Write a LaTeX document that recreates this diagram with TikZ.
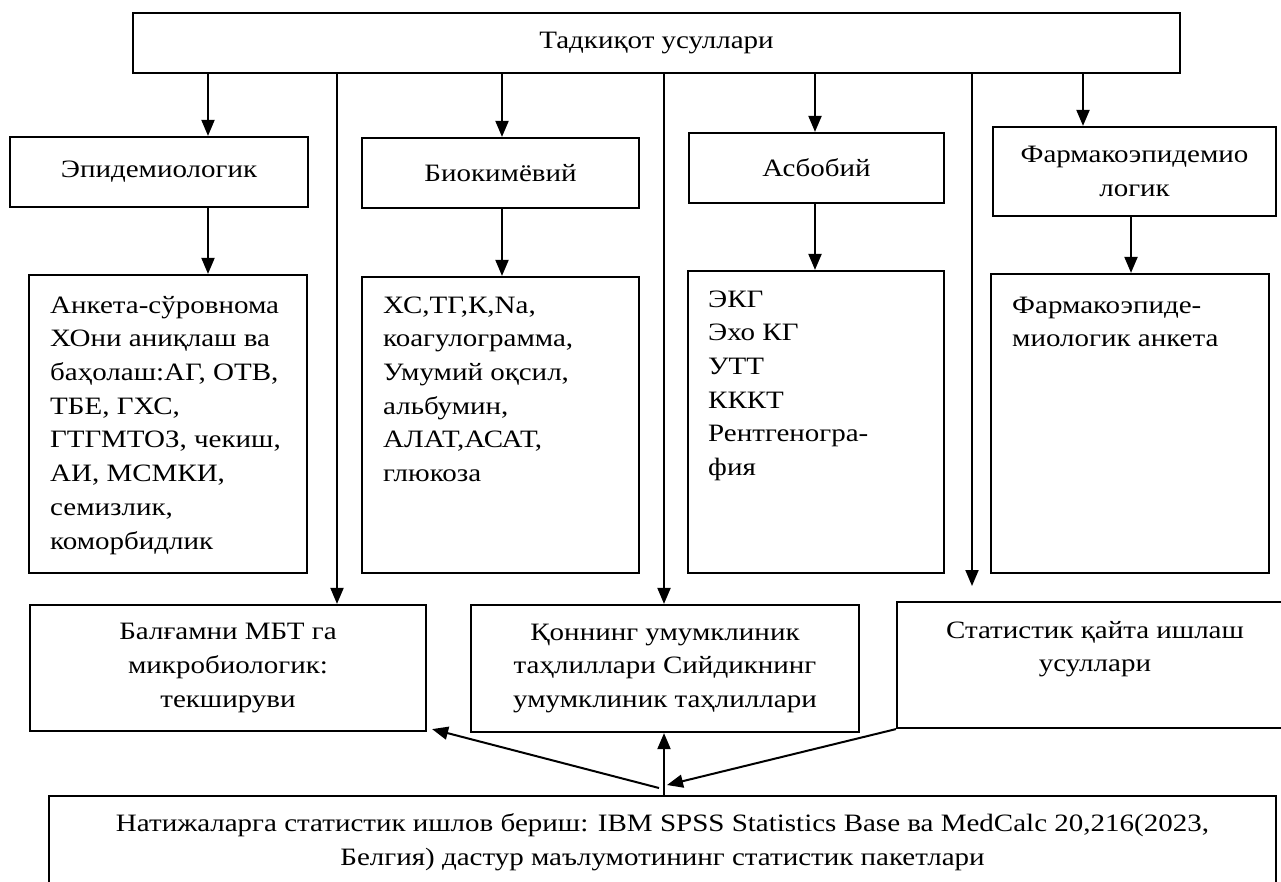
\documentclass[tikz,border=0pt]{standalone}
\usepackage{fontspec}
\setmainfont{Liberation Serif}[FakeStretch=1.16]
\usetikzlibrary{arrows.meta,calc}
\tikzset{
  box/.style={draw, line width=2.2pt, rectangle, inner sep=0pt, align=center},
  txtlist/.style={align=left, anchor=north west, inner sep=0pt},
  txtc/.style={align=center, inner sep=0pt},
  arr/.style={line width=2pt, -{Triangle[length=16pt,width=13pt]}},
}
\begin{document}
\begin{tikzpicture}[x=1pt,y=-1pt,font=\fontsize{25}{33.7}\selectfont]
\clip (0,0) rectangle (1281,881);
\fill[white] (0,0) rectangle (1281,881);

% top box
\node[box, minimum width=1047pt, minimum height=60pt] (top) at (656.5,43) {Тадкиқот усуллари};

% second row: method groups
\node[box, minimum width=298pt, minimum height=70pt] (epi) at (159,172) {Эпидемиологик};
\node[box, minimum width=277pt, minimum height=70pt] (bio) at (500.5,173) {Биокимёвий};
\node[box, minimum width=255pt, minimum height=70pt] (asb) at (816.5,168) {Асбобий};
\node[box, minimum width=283pt, minimum height=89pt] (far) at (1134.5,171.5) {Фармакоэпидемио\\логик};

% third row: detail boxes
\node[box, minimum width=278pt, minimum height=298pt] (epiL) at (168,424) {};
\node[box, minimum width=277pt, minimum height=296pt] (bioL) at (500.5,425) {};
\node[box, minimum width=256pt, minimum height=302pt] (asbL) at (816,422) {};
\node[box, minimum width=278pt, minimum height=299pt] (farL) at (1130,423.5) {};

\node[txtlist] (epiT) at (50,289.4) {\strut Анкета-сўровнома\\ХОни аниқлаш ва\\баҳолаш:АГ, ОТВ,\\ТБЕ, ГХС,\\ГТГМТОЗ, чекиш,\\АИ, МСМКИ,\\семизлик,\\коморбидлик};
\node[txtlist] (bioT) at (383,289.4) {\strut ХС,ТГ,К,Na,\\коагулограмма,\\Умумий оқсил,\\альбумин,\\АЛАТ,АСАТ,\\глюкоза};
\node[txtlist] (asbT) at (708,283.4) {\strut ЭКГ\\Эхо КГ\\УТТ\\КККТ\\Рентгеногра-\\фия};
\node[txtlist] (farT) at (1012,289.4) {\strut Фармакоэпиде-\\миологик анкета};

% fourth row
\node[box, minimum width=396pt, minimum height=126pt] (mbt) at (228,668) {Балғамни МБТ га\\микробиологик:\\текшируви};
\node[box, minimum width=388pt, minimum height=127pt] (blood) at (665,668.5) {Қоннинг умумклиник\\таҳлиллари Сийдикнинг\\умумклиник таҳлиллари};
\node[box, minimum width=396pt, minimum height=126pt] (stat) at (1095,665) {};
\node[txtc] (statT) at (1095,649) {Статистик қайта ишлаш\\усуллари};

% bottom box
\node[box, minimum width=1227pt, minimum height=93pt] (res) at (662.5,842.5) {Натижаларга статистик ишлов бериш: IBM SPSS Statistics Base ва MedCalc 20,216(2023,\\Белгия) дастур маълумотининг статистик пакетлари};

% connector columns
\coordinate (xa) at (208,0);
\coordinate (xb) at (502,0);
\coordinate (xc) at (815,0);
\coordinate (xd) at (1083,0);
\coordinate (xd2) at (1131,0);
\coordinate (xe) at (337,0);
\coordinate (xf) at (664,0);
\coordinate (xg) at (972,0);
\coordinate (gEnd) at (972,586);
\coordinate (hub) at (659,788);
\coordinate (hubR) at (667,785);

% top to second row
\draw[arr] (top.south -| xa) -- (epi.north -| xa);
\draw[arr] (top.south -| xb) -- (bio.north -| xb);
\draw[arr] (top.south -| xc) -- (asb.north -| xc);
\draw[arr] (top.south -| xd) -- (far.north -| xd);

% second to third row
\draw[arr] (epi.south -| xa) -- (epiL.north -| xa);
\draw[arr] (bio.south -| xb) -- (bioL.north -| xb);
\draw[arr] (asb.south -| xc) -- (asbL.north -| xc);
\draw[arr] (far.south -| xd2) -- (farL.north -| xd2);

% long lines to the fourth row
\draw[arr] (top.south -| xe) -- (mbt.north -| xe);
\draw[arr] (top.south -| xf) -- (blood.north -| xf);
\draw[arr] (top.south -| xg) -- (gEnd);

% bottom connectors
\draw[arr] (res.north -| xf) -- (blood.south -| xf);
\draw[arr] (hub) -- ([xshift=5pt,yshift=3pt]mbt.south east);
\draw[arr] (stat.south west) -- (hubR);
\end{tikzpicture}
\end{document}
